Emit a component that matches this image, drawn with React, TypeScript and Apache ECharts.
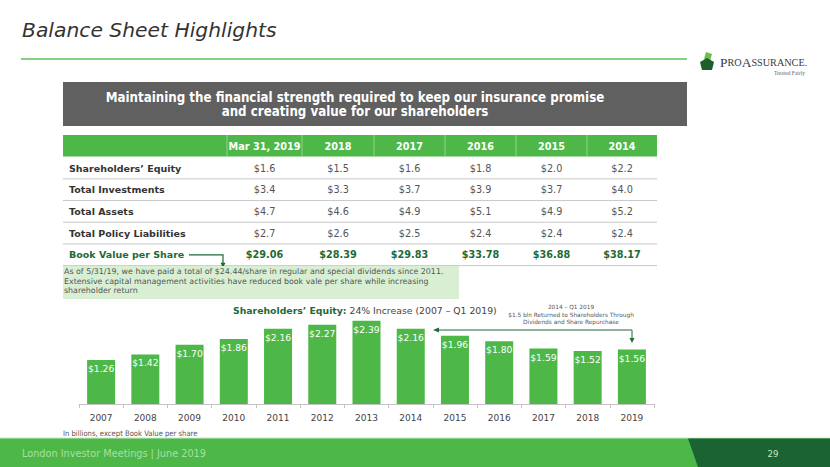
import React, { useEffect, useRef } from "react";
import * as echarts from "echarts";

// ---- Data ----
const tableHeaders = ["Mar 31, 2019", "2018", "2017", "2016", "2015", "2014"];
const rowLabels = ["Shareholders\u2019 Equity", "Total Investments", "Total Assets", "Total Policy Liabilities"];
const shareholdersEquity = [1.6, 1.5, 1.6, 1.8, 2.0, 2.2];
const totalInvestments = [3.4, 3.3, 3.7, 3.9, 3.7, 4.0];
const totalAssets = [4.7, 4.6, 4.9, 5.1, 4.9, 5.2];
const totalPolicyLiabilities = [2.7, 2.6, 2.5, 2.4, 2.4, 2.4];
const bookValueLabel = "Book Value per Share";
const bookValuePerShare = [29.06, 28.39, 29.83, 33.78, 36.88, 38.17];

const barYears = ["2007", "2008", "2009", "2010", "2011", "2012", "2013", "2014", "2015", "2016", "2017", "2018", "2019"];
const barEquity = [1.26, 1.42, 1.7, 1.86, 2.16, 2.27, 2.39, 2.16, 1.96, 1.8, 1.59, 1.52, 1.56];

const noteLines = [
  "As of 5/31/19, we have paid a total of $24.44/share in regular and special dividends since 2011.",
  "Extensive capital management activities have reduced book vale per share while increasing",
  "shareholder return",
];
const annotationLines = [
  "2014 \u2013 Q1 2019",
  "$1.5 bln Returned to Shareholders Through",
  "Dividends and Share Repurchase",
];

// ---- Styles ----
const GREEN = "#4db848";
const DARK_GREEN = "#1d6b36";
const FONT = '"DejaVu Sans", Verdana, sans-serif';
const COND = '"DejaVu Sans Condensed", "DejaVu Sans", sans-serif';

function txt(x: number, y: number, text: string, font: string, fill: string, align = "left", extra: any = {}) {
  return {
    type: "text",
    x,
    y,
    silent: true,
    style: {
      text,
      font,
      fill,
      align,
      verticalAlign: "middle",
      textAlign: align,
      textVerticalAlign: "middle",
      ...extra,
    },
  };
}

export default function App() {
  const ref = useRef<HTMLDivElement>(null);
  useEffect(() => {
    if (!ref.current) return;
    const chart = echarts.init(ref.current, undefined, { renderer: "svg" });

    const g: any[] = [];
    // Title
    g.push(txt(22, 30, "Balance Sheet Highlights", `italic 20.3px ${FONT}`, "#333333"));
    g.push({ type: "line", shape: { x1: 21, y1: 59, x2: 687, y2: 59 }, style: { stroke: "#5cbf5c", lineWidth: 1.5 } });

    // Logo
    g.push({ type: "polygon", shape: { points: [[706, 52], [712, 54], [710, 61], [704, 59]] }, style: { fill: "#6cc04a" } });
    g.push({ type: "polygon", shape: { points: [[700, 62], [707, 58], [714, 62], [712, 70], [702, 70]] }, style: { fill: "#1d5e2c" } });
    g.push({
      type: "text",
      x: 720,
      y: 62,
      style: {
        text: "{a|P}{b|RO}{a|A}{b|SSURANCE}{b|.}",
        verticalAlign: "middle",
        textVerticalAlign: "middle",
        rich: {
          a: { fontFamily: '"Liberation Serif", serif', fontSize: 13.5, fill: "#3a3a3a", color: "#3a3a3a" },
          b: { fontFamily: '"Liberation Serif", serif', fontSize: 10.2, fill: "#3a3a3a", color: "#3a3a3a" },
        },
      },
    });
    g.push(txt(805, 73, "Treated Fairly", '5.5px "Liberation Serif", serif', "#666666", "right"));

    // Banner
    g.push({ type: "rect", shape: { x: 63, y: 82, width: 624, height: 44 }, style: { fill: "#606060" } });
    g.push(txt(355, 97, "Maintaining the financial strength required to keep our insurance promise", `bold 13.2px ${COND}`, "#ffffff", "center"));
    g.push(txt(355, 111, "and creating value for our shareholders", `bold 13.2px ${COND}`, "#ffffff", "center"));

    // Table
    const colStarts = [227, 302, 374, 445, 516, 587];
    const colEnd = 657;
    const tableLeft = 63;
    const colCenter = (i: number) => (colStarts[i] + (i < colStarts.length - 1 ? colStarts[i + 1] : colEnd)) / 2;
    g.push({ type: "rect", shape: { x: tableLeft, y: 135, width: colEnd - tableLeft, height: 21.5 }, style: { fill: GREEN } });
    colStarts.forEach((cx) => {
      g.push({ type: "line", shape: { x1: cx, y1: 135, x2: cx, y2: 156.5 }, style: { stroke: "#8fd48a", lineWidth: 1 } });
    });
    tableHeaders.forEach((h, i) => g.push(txt(colCenter(i), 146, h, `bold 9.7px ${FONT}`, "#ffffff", "center")));

    const bodyRows = [shareholdersEquity, totalInvestments, totalAssets, totalPolicyLiabilities];
    const rowH = 21.7;
    const firstRowY = 168;
    bodyRows.forEach((vals, r) => {
      const cy = firstRowY + r * rowH;
      g.push(txt(69, cy, rowLabels[r], `bold 9.5px ${FONT}`, "#333333"));
      vals.forEach((v, i) => g.push(txt(colCenter(i), cy, "$" + v.toFixed(1), `9.7px ${FONT}`, "#555555", "center")));
      g.push({ type: "line", shape: { x1: tableLeft, y1: cy + rowH / 2, x2: colEnd, y2: cy + rowH / 2 }, style: { stroke: "#c8c8c8", lineWidth: 1 } });
    });
    const bvY = firstRowY + 4 * rowH;
    g.push(txt(69, bvY, bookValueLabel, `bold 9.5px ${FONT}`, DARK_GREEN));
    bookValuePerShare.forEach((v, i) => g.push(txt(colCenter(i), bvY, "$" + v.toFixed(2), `bold 9.7px ${FONT}`, DARK_GREEN, "center")));
    g.push({ type: "line", shape: { x1: tableLeft, y1: bvY + rowH / 2, x2: colEnd, y2: bvY + rowH / 2 }, style: { stroke: "#c8c8c8", lineWidth: 1 } });
    // arrow from book value label
    g.push({ type: "polyline", shape: { points: [[189, bvY], [223, bvY], [223, bvY + 9]] }, style: { stroke: DARK_GREEN, lineWidth: 1.2, fill: "none" } });
    g.push({ type: "polygon", shape: { points: [[220.5, bvY + 8], [225.5, bvY + 8], [223, bvY + 13]] }, style: { fill: DARK_GREEN } });

    // Note box
    g.push({ type: "rect", shape: { x: 63, y: 266, width: 396, height: 33 }, style: { fill: "#d8efd4" } });
    noteLines.forEach((l, i) => g.push(txt(64, 271.5 + i * 9.5, l, `7.9px ${FONT}`, "#555555")));

    // Chart title
    g.push({
      type: "text",
      x: 233,
      y: 310,
      style: {
        text: "{b|Shareholders\u2019 Equity:}{r| 24% Increase (2007 \u2013 Q1 2019)}",
        verticalAlign: "middle",
        textVerticalAlign: "middle",
        rich: {
          b: { fontFamily: FONT, fontWeight: "bold", fontSize: 9.3, fill: DARK_GREEN, color: DARK_GREEN },
          r: { fontFamily: FONT, fontSize: 9.3, fill: "#444444", color: "#444444" },
        },
      },
    });
    annotationLines.forEach((l, i) => g.push(txt(571, 307 + i * 7.5, l, `5.8px ${FONT}`, "#555555", "center")));
    // return arrow
    g.push({ type: "polyline", shape: { points: [[438, 330], [632, 330], [632, 339]] }, style: { stroke: DARK_GREEN, lineWidth: 1, fill: "none" } });
    g.push({ type: "polygon", shape: { points: [[433, 330], [439, 327.5], [439, 332.5]] }, style: { fill: DARK_GREEN } });
    g.push({ type: "polygon", shape: { points: [[629.5, 338], [634.5, 338], [632, 343]] }, style: { fill: DARK_GREEN } });

    g.push(txt(63, 433, "In billions, except Book Value per share", `7.6px ${COND}`, "#555555"));

    // Footer
    g.push({ type: "rect", shape: { x: 0, y: 438, width: 830, height: 29 }, style: { fill: GREEN } });
    g.push({ type: "line", shape: { x1: 0, y1: 438, x2: 830, y2: 438 }, style: { stroke: "#c9e9c6", lineWidth: 1 } });
    g.push({ type: "polygon", shape: { points: [[688, 438.5], [830, 438.5], [830, 467], [698, 467]] }, style: { fill: "#1a6434" } });
    g.push(txt(22, 453, "London Investor Meetings | June 2019", `10.8px ${COND}`, "#a9dfa4"));
    g.push(txt(773, 453, "29", `9.5px ${COND}`, "#c8e6c4", "center"));

    chart.setOption({
      animation: false,
      backgroundColor: "#ffffff",
      grid: { left: 79, right: 176, top: 313.3, bottom: 63, containLabel: false },
      xAxis: {
        type: "category",
        data: barYears,
        axisLine: { show: true, lineStyle: { color: "#c4c4c4", width: 1 } },
        axisTick: { show: true, length: 4, lineStyle: { color: "#c4c4c4" } },
        axisLabel: { color: "#444444", fontSize: 9, fontFamily: FONT, margin: 9 },
      },
      yAxis: { type: "value", min: 0, max: 2.6, show: false, splitLine: { show: false } },
      series: [
        {
          type: "bar",
          data: barEquity,
          barWidth: 28,
          itemStyle: { color: GREEN },
          label: {
            show: true,
            position: "insideTop",
            distance: 4,
            color: "#ffffff",
            fontSize: 9.2,
            fontFamily: FONT,
            formatter: (p: any) => "$" + Number(p.value).toFixed(2),
          },
        },
      ],
      graphic: { elements: g },
    });
    return () => chart.dispose();
  }, []);
  return <div ref={ref} style={{ position: "absolute", left: 0, top: 0, width: 830, height: 467 }} />;
}
